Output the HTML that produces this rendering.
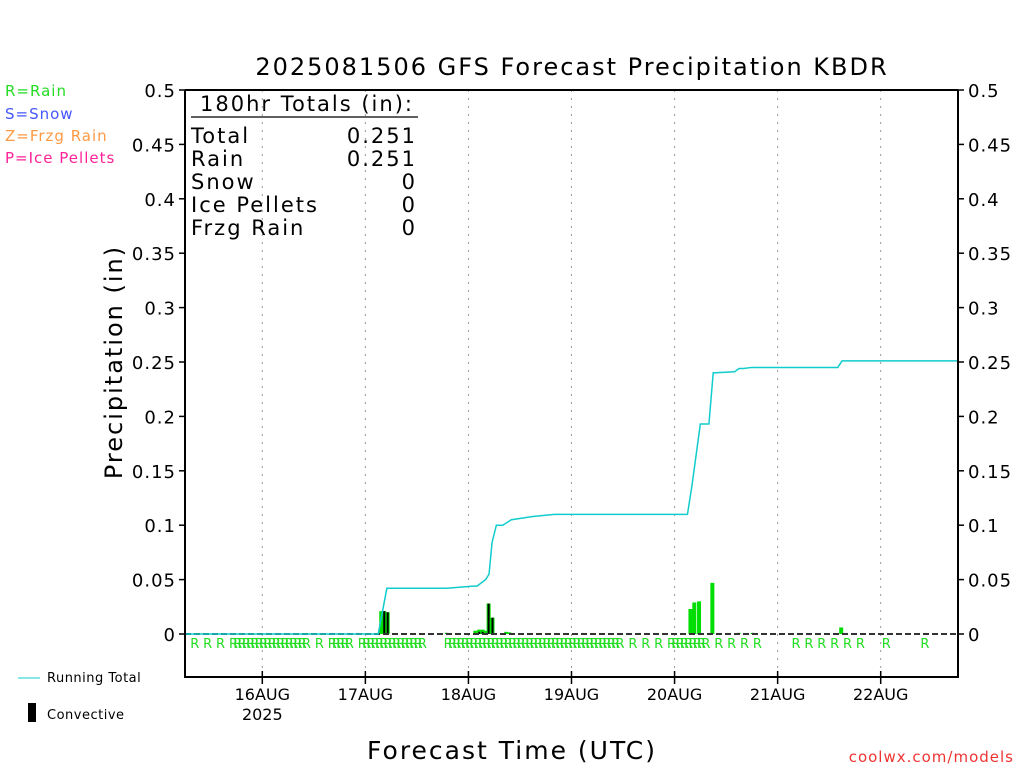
<!DOCTYPE html>
<html><head><meta charset="utf-8"><style>
body{margin:0;background:#fff;}
svg{display:block;font-family:"DejaVu Sans","Liberation Sans",sans-serif;}
</style></head><body>
<svg id="chart" width="1024" height="768" viewBox="0 0 1024 768" xmlns="http://www.w3.org/2000/svg">
<text x="572" y="75" font-size="24" text-anchor="middle" fill="#000" letter-spacing="2">2025081506 GFS Forecast Precipitation KBDR</text>
<g font-size="15" letter-spacing="1">
<text x="5" y="96" fill="#22dd22">R=Rain</text>
<text x="5" y="119" fill="#4455ff">S=Snow</text>
<text x="5" y="141" fill="#ff9944">Z=Frzg Rain</text>
<text x="5" y="163" fill="#ff2299">P=Ice Pellets</text>
</g>
<text transform="translate(122,362) rotate(-90)" font-size="24" text-anchor="middle" letter-spacing="2">Precipitation (in)</text>
<text x="512" y="759" font-size="25" text-anchor="middle" letter-spacing="2">Forecast Time (UTC)</text>
<text x="1014" y="762" font-size="15" text-anchor="end" fill="#ee3333" letter-spacing="1">coolwx.com/models</text>
<g font-size="13">
<line x1="18" y1="678" x2="40" y2="678" stroke="#11cccc" stroke-width="1"/>
<text x="47" y="682" letter-spacing="0.5">Running Total</text>
<rect x="28" y="703" width="8" height="19" fill="#000"/>
<text x="47" y="719" letter-spacing="0.5">Convective</text>
</g>
<g id="plot"></g>
<g font-size="21" letter-spacing="2" fill="#000">
<text x="200" y="111">180hr Totals (in):</text>
<line x1="191" y1="117" x2="418" y2="117" stroke="#000" stroke-width="1.2"/>
<text x="191" y="143">Total</text><text x="417" y="143" text-anchor="end">0.251</text>
<text x="191" y="166">Rain</text><text x="417" y="166" text-anchor="end">0.251</text>
<text x="191" y="189">Snow</text><text x="417" y="189" text-anchor="end">0</text>
<text x="191" y="212">Ice Pellets</text><text x="417" y="212" text-anchor="end">0</text>
<text x="191" y="235">Frzg Rain</text><text x="417" y="235" text-anchor="end">0</text>
</g>
</svg>
<script>
const yTicks=[0,0.05,0.1,0.15,0.2,0.25,0.3,0.35,0.4,0.45,0.5];
const yTickLabels=["0","0.05","0.1","0.15","0.2","0.25","0.3","0.35","0.4","0.45","0.5"];
const dayHours=[18,42,66,90,114,138,162];
const dayLabels=["16AUG","17AUG","18AUG","19AUG","20AUG","21AUG","22AUG"];
const totalHours=[0,45,47,61,67,68,70,70.8,71.5,72.5,74,76,81,86,117,118,120,122,123,128,129,130,132,138,152,153,180];
const totalValues=[0,0,0.042,0.042,0.044,0.044,0.05,0.055,0.084,0.1,0.1,0.105,0.108,0.11,0.11,0.135,0.193,0.193,0.24,0.241,0.244,0.244,0.245,0.245,0.245,0.251,0.251];
const barHours=[45.7,46.4,47.2,61,67.6,68.5,69.3,70,70.7,71.6,74.8,75.5,117.7,118.6,119.7,122.8,128.9,132.2,152.8];
const barValues=[0.021,0.021,0.02,0.001,0.003,0.004,0.004,0.003,0.028,0.015,0.002,0.0015,0.023,0.029,0.03,0.047,0.001,0.001,0.006];
const convValues=[0,0.021,0.02,0.001,0,0.002,0.002,0,0.028,0.015,0,0,0,0,0,0,0.001,0.001,0];
const rainHours=[1,4,7,10,11,12,13,14,15,16,17,18,19,20,21,22,23,24,25,26,27,30,33,34,35,36,37,40,41,42,43,44,45,46,47,48,49,50,51,52,53,54,60,61,62,63,64,65,66,67,68,69,70,71,72,73,74,75,76,77,78,79,80,81,82,83,84,85,86,87,88,89,90,91,92,93,94,95,96,97,98,99,100,103,106,109,112,113,114,115,116,117,118,119,120,123,126,129,132,141,144,147,150,153,156,162,171];
const X0=185,X1=958,Y0=634,Y1=90,HMAX=180,VMAX=0.5;
const xs=h=>X0+(X1-X0)*h/HMAX;
const ys=v=>Y0-(Y0-Y1)*v/VMAX;
const NS="http://www.w3.org/2000/svg";
const plot=document.getElementById('plot');
function mk(tag,attrs,parent){const e=document.createElementNS(NS,tag);for(const k in attrs)e.setAttribute(k,attrs[k]);(parent||plot).appendChild(e);return e;}
dayHours.forEach((h,i)=>{
 const g=mk('line',{x1:xs(h),x2:xs(h),y1:Y1,y2:677,stroke:'#999','stroke-dasharray':'2,6','stroke-width':1});
 
 
 const t=mk('line',{x1:xs(h),x2:xs(h),y1:671,y2:684,stroke:'#000','stroke-width':1.5});
 
 
 const l=mk('text',{x:xs(h),y:700,'font-size':16,'text-anchor':'middle'});
 l.textContent=dayLabels[i];
 
 
});
const yr=mk('text',{x:xs(dayHours[0]),y:720,'font-size':16,'text-anchor':'middle'});
yr.textContent="2025";


yTicks.forEach((v,i)=>{
 const a=mk('line',{x1:X0-6,x2:X0,y1:ys(v),y2:ys(v),stroke:'#000','stroke-width':1.5});
 
 
 const b=mk('line',{x1:X1,x2:X1+6,y1:ys(v),y2:ys(v),stroke:'#000','stroke-width':1.5});
 
 
 const l=mk('text',{x:X0-9,y:ys(v)+7,'font-size':18,'text-anchor':'end','letter-spacing':1});
 l.textContent=yTickLabels[i];
 
 
 const r=mk('text',{x:X1+10,y:ys(v)+7,'font-size':18,'letter-spacing':1});
 r.textContent=yTickLabels[i];
 
 
});
barHours.forEach((h,i)=>{
 const b=mk('rect',{x:xs(h)-2,y:ys(barValues[i]),width:4,height:Y0-ys(barValues[i]),fill:'#00dd00'});
 
 
 if(convValues[i]>0){
  const c=mk('rect',{x:xs(h)-1,y:ys(convValues[i]),width:2,height:Y0-ys(convValues[i]),fill:'#000'});
  
  
 }
});
const base=mk('line',{x1:X0,x2:X1,y1:Y0,y2:Y0,stroke:'#333','stroke-width':2,'stroke-dasharray':'6,3'});


const pts=totalHours.map((h,i)=>xs(h)+','+ys(totalValues[i])).join(' ');
const line=mk('polyline',{points:pts,fill:'none',stroke:'#11cccc','stroke-width':1.5});


rainHours.forEach(h=>{
 const t=mk('text',{x:xs(h)+1,y:648,'font-size':13,fill:'#22dd22'});
 t.textContent='R';
 
 
});
const f=mk('path',{d:`M${X0},${Y1} L${X0},677 L${X1},677 L${X1},${Y1} M${X0},${Y1} L${X1},${Y1}`,fill:'none',stroke:'#000','stroke-width':2});


</script>
</body></html>
